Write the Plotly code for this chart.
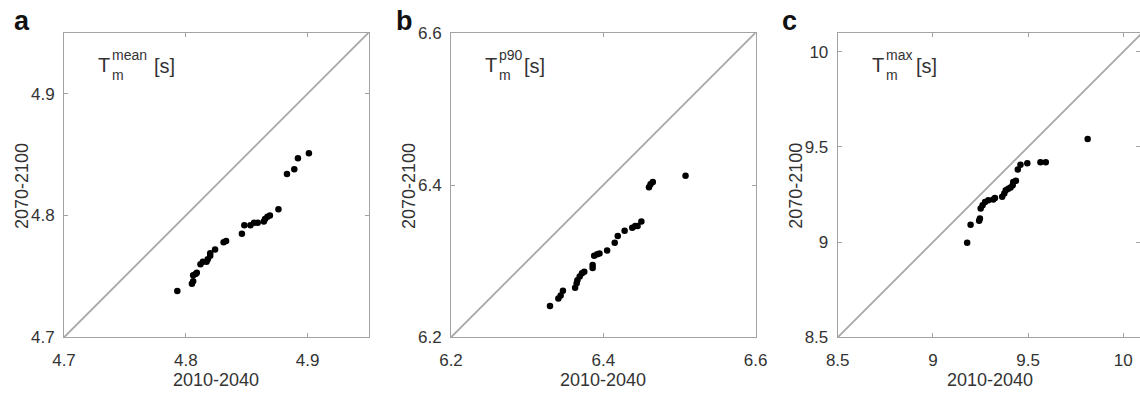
import plotly.graph_objects as go

# ---------------- data ----------------
a_x = [4.793, 4.805, 4.806, 4.806, 4.808, 4.809, 4.812, 4.814, 4.817, 4.818, 4.820, 4.820,
       4.824, 4.831, 4.833, 4.846, 4.848, 4.853, 4.856, 4.859, 4.864, 4.865, 4.867, 4.869,
       4.876, 4.883, 4.889, 4.892, 4.901]
a_y = [4.738, 4.744, 4.746, 4.751, 4.752, 4.753, 4.760, 4.762, 4.762, 4.764, 4.767, 4.769,
       4.772, 4.778, 4.779, 4.785, 4.792, 4.792, 4.794, 4.794, 4.795, 4.797, 4.799, 4.800,
       4.805, 4.834, 4.838, 4.847, 4.851]

b_x = [6.330, 6.341, 6.344, 6.347, 6.363, 6.365, 6.366, 6.369, 6.372, 6.375, 6.386, 6.386,
       6.388, 6.392, 6.395, 6.405, 6.415, 6.419, 6.428, 6.438, 6.442, 6.445, 6.450, 6.460,
       6.462, 6.465, 6.508]
b_y = [6.241, 6.251, 6.255, 6.261, 6.265, 6.271, 6.275, 6.280, 6.284, 6.286, 6.291, 6.295,
       6.307, 6.309, 6.310, 6.314, 6.324, 6.333, 6.340, 6.344, 6.346, 6.346, 6.352, 6.397,
       6.401, 6.404, 6.412]

c_x = [9.180, 9.198, 9.243, 9.247, 9.251, 9.261, 9.274, 9.291, 9.317, 9.326, 9.364, 9.375,
       9.383, 9.396, 9.408, 9.419, 9.422, 9.436, 9.446, 9.460, 9.496, 9.565, 9.593, 9.813]
c_y = [8.996, 9.091, 9.112, 9.124, 9.177, 9.194, 9.211, 9.220, 9.224, 9.232, 9.238, 9.255,
       9.273, 9.280, 9.287, 9.299, 9.316, 9.322, 9.381, 9.407, 9.414, 9.420, 9.420, 9.542]

a_ticks = [4.7, 4.8, 4.9]
b_ticks = [6.2, 6.4, 6.6]
c_ticks = [8.5, 9, 9.5, 10]
a_ticktext = ["4.7", "4.8", "4.9"]
b_ticktext = ["6.2", "6.4", "6.6"]
c_ticktext = ["8.5", "9", "9.5", "10"]

panel_letters = ["a", "b", "c"]
sup_texts = ["mean", "p90", "max"]
x_title = "2010-2040"
y_title = "2070-2100"

# ---------------- layout constants ----------------
W, H = 1140, 396
FONT = "Liberation Sans, Arial, Helvetica, sans-serif"
AX = "#a3a3a3"
TXT = "#333333"

top_px, bot_px = 32.7, 337.3
ydom = [(H - bot_px) / H, (H - top_px) / H]
lefts = [64.0, 451.0, 837.7]
size_px = 304.6

panels = [
    dict(x=a_x, y=a_y, xr=[4.7, 4.95], yr=[4.7, 4.95], tv=a_ticks, tt=a_ticktext),
    dict(x=b_x, y=b_y, xr=[6.2, 6.6], yr=[6.2, 6.6], tv=b_ticks, tt=b_ticktext),
    dict(x=c_x, y=c_y, xr=[8.5, 10.1], yr=[8.5, 10.1], tv=c_ticks, tt=c_ticktext),
]

fig = go.Figure()
annotations = []
s_offsets = [88, 71, 76]

for i, p in enumerate(panels):
    n = "" if i == 0 else str(i + 1)
    L = lefts[i]
    R = L + size_px
    xr = list(p["xr"])
    if R > W:
        xr[1] = xr[0] + (xr[1] - xr[0]) * (W - L) / size_px
        R = W
    xdom = [L / W, R / W]

    # diagonal 1:1 line
    fig.add_trace(go.Scatter(
        x=[p["yr"][0], p["yr"][1]], y=[p["yr"][0], p["yr"][1]],
        mode="lines", line=dict(color="#a8a8a8", width=1.8),
        xaxis="x" + n, yaxis="y" + n, hoverinfo="skip", showlegend=False))
    # data
    fig.add_trace(go.Scatter(
        x=p["x"], y=p["y"], mode="markers",
        marker=dict(color="black", size=6.5, line=dict(width=0)),
        xaxis="x" + n, yaxis="y" + n, showlegend=False))

    axcommon = dict(showgrid=False, zeroline=False, showline=True, linecolor=AX,
                    linewidth=1, mirror="ticks", ticks="inside", ticklen=4,
                    tickcolor=AX, tickwidth=1, automargin=False,
                    tickfont=dict(family=FONT, size=17, color=TXT),
                    tickmode="array", tickvals=p["tv"], ticktext=p["tt"])
    fig.update_layout(**{
        "xaxis" + n: dict(domain=xdom, range=xr, anchor="y" + n,
                          ticklabelstandoff=7, **axcommon),
        "yaxis" + n: dict(domain=ydom, range=p["yr"], anchor="x" + n,
                          ticklabelstandoff=5, **axcommon),
    })

    cx = (L + L + size_px) / 2
    # axis titles
    annotations.append(dict(text=x_title, x=cx / W, y=(H - 380) / H, xref="paper",
                            yref="paper", xanchor="center", yanchor="middle",
                            showarrow=False, font=dict(family=FONT, size=18, color=TXT)))
    annotations.append(dict(text=y_title, x=(L - 42) / W, y=(H - 186) / H, xref="paper",
                            yref="paper", xanchor="center", yanchor="middle", textangle=-90,
                            showarrow=False, font=dict(family=FONT, size=18, color=TXT)))
    # panel letters
    letter_x = [21.5, 404, 789.5][i]
    annotations.append(dict(text="<b>" + panel_letters[i] + "</b>", x=letter_x / W,
                            y=(H - 21) / H, xref="paper", yref="paper",
                            xanchor="center", yanchor="middle", showarrow=False,
                            font=dict(family=FONT, size=27, color="#111111")))
    # T_m^xxx [s]
    annotations.append(dict(text="T", x=(L + 32) / W, y=(H - 65) / H, xref="paper",
                            yref="paper", xanchor="left", yanchor="middle",
                            showarrow=False, font=dict(family=FONT, size=20, color=TXT)))
    annotations.append(dict(text=sup_texts[i], x=(L + 46) / W, y=(H - 55) / H,
                            xref="paper", yref="paper", xanchor="left", yanchor="middle",
                            showarrow=False, font=dict(family=FONT, size=14, color=TXT)))
    annotations.append(dict(text="m", x=(L + 46) / W, y=(H - 75) / H, xref="paper",
                            yref="paper", xanchor="left", yanchor="middle",
                            showarrow=False, font=dict(family=FONT, size=14, color=TXT)))
    annotations.append(dict(text="[s]", x=(L + s_offsets[i]) / W, y=(H - 66) / H,
                            xref="paper", yref="paper", xanchor="left", yanchor="middle",
                            showarrow=False, font=dict(family=FONT, size=20, color=TXT)))

fig.update_layout(width=W, height=H, margin=dict(l=0, r=0, t=0, b=0, pad=0),
                  paper_bgcolor="white", plot_bgcolor="white", showlegend=False,
                  annotations=annotations)

fig.write_html("out.html")
